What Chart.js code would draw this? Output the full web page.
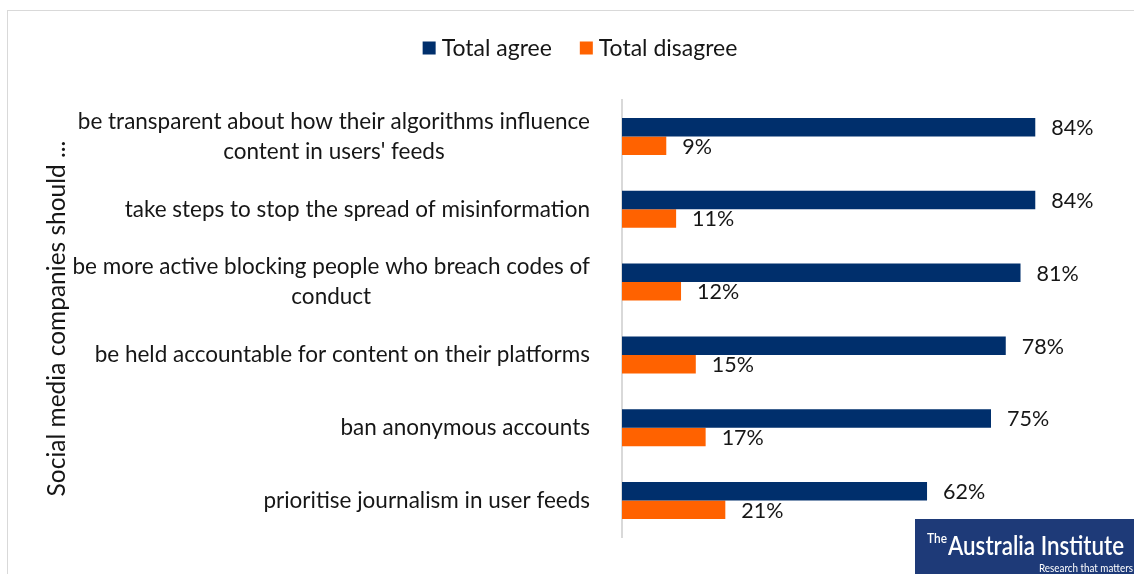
<!DOCTYPE html>
<html>
<head>
<meta charset="utf-8">
<title>Social media companies should ...</title>
<script src="https://cdn.jsdelivr.net/npm/chart.js@4.4.1/dist/chart.umd.min.js"></script>
<style>
  html, body { margin: 0; padding: 0; background: #fff; }
  #chart { display: block; }
</style>
</head>
<body>
<canvas id="chart" width="1134" height="574"></canvas>
<script>
// survey statements, wrapped the way they are shown next to the bars
const categories = [
  ['be transparent about how their algorithms influence', "content in users' feeds"],
  'take steps to stop the spread of misinformation',
  ['be more active blocking people who breach codes of', 'conduct'],
  'be held accountable for content on their platforms',
  'ban anonymous accounts',
  'prioritise journalism in user feeds'
]
const seriesNames = ['Total agree', 'Total disagree']
const totalAgree = [84, 84, 81, 78, 75, 62]
const totalDisagree = [9, 11, 12, 15, 17, 21]
const axisTitle = 'Social media companies should ...'

const FONT = 'Lato, "Open Sans", sans-serif'
const NAVY = '#002F6C'
const ORANGE = '#FF6200'
const INK = '#161616'
const LINE = '#d9d9d9'

// white background + the thin frame around the whole chart
const framePlugin = {
  id: 'frame',
  beforeDraw(chart) {
    const { ctx, width, height } = chart
    ctx.save()
    ctx.fillStyle = '#fff'
    ctx.fillRect(0, 0, width, height)
    ctx.strokeStyle = LINE
    ctx.lineWidth = 1
    ctx.strokeRect(7.5, 10.5, width + 20, height + 20)
    ctx.restore()
  }
}

// legend row: square swatch, small gap, label
const legendPlugin = {
  id: 'squareLegend',
  afterDraw(chart) {
    const { ctx } = chart
    const box = 13
    const gap = 6
    const spacing = 28
    const centerX = 580
    const y = 48
    ctx.save()
    ctx.font = `23px ${FONT}`
    const items = chart.data.datasets.map(ds => ({
      text: ds.label,
      color: ds.backgroundColor,
      width: ctx.measureText(ds.label).width
    }))
    const total = items.reduce((sum, it) => sum + box + gap + it.width, 0) + spacing * (items.length - 1)
    let x = centerX - total / 2
    ctx.textBaseline = 'middle'
    ctx.textAlign = 'left'
    items.forEach(it => {
      ctx.fillStyle = it.color
      ctx.fillRect(x, y - box / 2, box, box)
      ctx.fillStyle = INK
      ctx.fillText(it.text, x + box + gap, y + 1)
      x += box + gap + it.width + spacing
    })
    ctx.restore()
  }
}

// statement labels: lines centred on each other, block right-aligned to the axis
const categoryLabelPlugin = {
  id: 'categoryLabels',
  afterDraw(chart) {
    const { ctx } = chart
    const yScale = chart.scales.y
    const rightEdge = 590
    const lineHeight = 30
    ctx.save()
    ctx.font = `22.5px ${FONT}`
    ctx.fillStyle = INK
    ctx.textAlign = 'center'
    ctx.textBaseline = 'middle'
    chart.data.labels.forEach((label, i) => {
      const lines = Array.isArray(label) ? label : [label]
      const blockWidth = Math.max(...lines.map(l => ctx.measureText(l).width))
      const cx = rightEdge - blockWidth / 2
      const cy = yScale.getPixelForValue(i)
      const startY = cy - (lines.length - 1) * lineHeight / 2
      lines.forEach((line, k) => ctx.fillText(line, cx, startY + k * lineHeight))
    })
    ctx.restore()
  }
}

// "84%" style labels just past the end of each bar
const valueLabelPlugin = {
  id: 'valueLabels',
  afterDatasetsDraw(chart) {
    const { ctx } = chart
    ctx.save()
    ctx.font = `21.5px ${FONT}`
    ctx.fillStyle = INK
    ctx.textAlign = 'left'
    ctx.textBaseline = 'middle'
    chart.data.datasets.forEach((ds, i) => {
      chart.getDatasetMeta(i).data.forEach((bar, j) => {
        ctx.fillText(`${ds.data[j]}%`, bar.x + 16, bar.y + 1)
      })
    })
    ctx.restore()
  }
}

// publisher badge in the bottom right corner
const logoPlugin = {
  id: 'logo',
  afterDraw(chart) {
    const { ctx, width, height } = chart
    const left = 915
    const top = 519
    ctx.save()
    ctx.fillStyle = '#1E3A78'
    ctx.fillRect(left, top, width - left, height - top)
    ctx.fillStyle = '#fff'
    ctx.textBaseline = 'alphabetic'
    ctx.textAlign = 'left'
    ctx.font = `600 13px ${FONT}`
    ctx.fillText('The', 927, 543, 20)
    ctx.font = `600 26px ${FONT}`
    ctx.fillText('Australia Institute', 948, 555, 176)
    ctx.font = `12px ${FONT}`
    ctx.textAlign = 'right'
    ctx.fillText('Research that matters', 1133, 572, 94)
    ctx.restore()
  }
}

new Chart(document.getElementById('chart'), {
  type: 'bar',
  data: {
    labels: categories,
    datasets: [
      {
        label: seriesNames[0],
        data: totalAgree,
        backgroundColor: NAVY
      },
      {
        label: seriesNames[1],
        data: totalDisagree,
        backgroundColor: ORANGE
      }
    ]
  },
  options: {
    indexAxis: 'y',
    responsive: false,
    animation: false,
    devicePixelRatio: 1,
    layout: {
      padding: { top: 100, bottom: 37, left: 0, right: 20 }
    },
    datasets: {
      bar: {
        barPercentage: 1,
        categoryPercentage: 0.508
      }
    },
    scales: {
      x: {
        display: false,
        min: 0,
        max: 100
      },
      y: {
        ticks: { display: false },
        grid: { display: false },
        border: { display: true, color: LINE, width: 2 },
        title: {
          display: true,
          text: axisTitle,
          color: INK,
          font: { family: FONT, size: 24.5 },
          padding: { top: 42, bottom: 0 }
        },
        afterFit(scale) {
          scale.width = 622
        }
      }
    },
    plugins: {
      legend: { display: false },
      tooltip: { enabled: false }
    }
  },
  plugins: [framePlugin, legendPlugin, categoryLabelPlugin, valueLabelPlugin, logoPlugin]
})
</script>
</body>
</html>
